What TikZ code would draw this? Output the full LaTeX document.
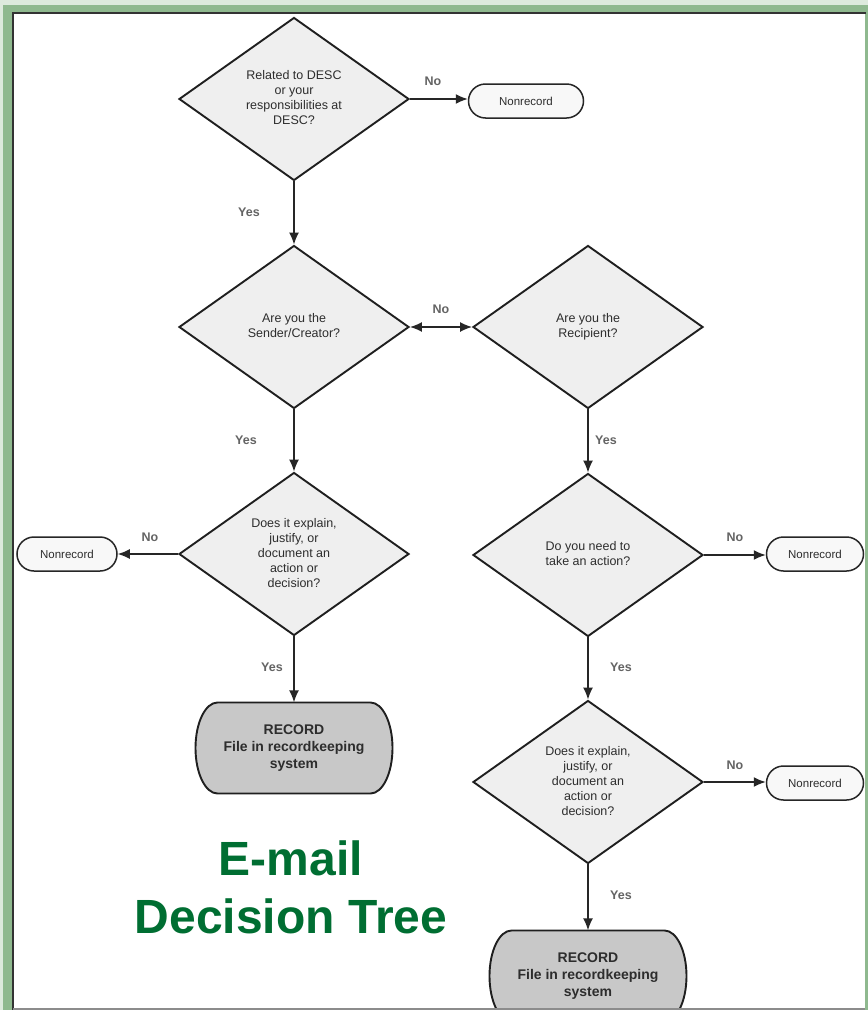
\documentclass[tikz,border=0pt]{standalone}
\usepackage{fontspec}
\setmainfont{Liberation Sans}
\usetikzlibrary{shapes.geometric,shapes.misc,arrows.meta}
\definecolor{frameg}{RGB}{143,185,143}
\definecolor{titleg}{RGB}{0,110,50}
\definecolor{dfill}{RGB}{239,239,239}
\definecolor{nfill}{RGB}{248,248,248}
\definecolor{rfill}{RGB}{200,200,200}
\definecolor{lblc}{RGB}{100,100,100}
\definecolor{txtc}{RGB}{45,45,45}
\newcommand{\dtxt}[2]{\raisebox{#1}{\begin{tabular}{@{}c@{}}#2\end{tabular}}}
\begin{document}
\begin{tikzpicture}[x=1pt,y=-1pt,
 decision/.style={diamond, draw=black!88, line width=1.9pt, fill=dfill, aspect=1.41,
   minimum width=230pt, minimum height=163pt, inner sep=0pt, align=center,
   font=\fontsize{12.5}{15}\selectfont, text=txtc},
 nonrec/.style={rounded rectangle, draw=black!85, line width=1.5pt, fill=nfill,
   minimum height=34pt, inner sep=0pt, font=\fontsize{11.5}{14}\selectfont, text=txtc},
 rectext/.style={rectangle, minimum width=197pt, minimum height=91pt, inner sep=0pt,
   align=center, font=\bfseries\fontsize{14}{17}\selectfont, text=txtc},
 recline/.style={draw=black!88, line width=1.9pt, fill=rfill},
 tipA/.tip={Latex[length=12pt,width=10pt]},
 conn/.style={line width=1.5pt, draw=black!85, -tipA},
 lbl/.style={font=\bfseries\fontsize{12.5}{15}\selectfont, text=lblc},
 titlestyle/.style={font=\bfseries\fontsize{48}{58}\selectfont, text=titleg, align=center}
]
\useasboundingbox (0,0) rectangle (868,1010);
% frame
\fill[frameg!30!white] (0,0) rectangle (868,1010);
\fill[frameg] (3,5) rectangle (868,1010);
\fill[white] (14,14) rectangle (865,1010);
\draw[line width=2pt, black!80] (13,1010) -- (13,13) -- (866,13);

% decisions
\node[decision] (d1) at (294,99) {\dtxt{6pt}{Related to DESC\\or your\\responsibilities at\\DESC?}};
\node[decision] (d2) at (294,327) {\dtxt{5pt}{Are you the\\Sender/Creator?}};
\node[decision] (d3) at (588,327) {\dtxt{5pt}{Are you the\\Recipient?}};
\node[decision] (d4) at (294,554) {\dtxt{1pt}{Does it explain,\\justify, or\\document an\\action or\\decision?}};
\node[decision] (d5) at (588,555) {\dtxt{7pt}{Do you need to\\take an action?}};
\node[decision] (d6) at (588,782) {\dtxt{0pt}{Does it explain,\\justify, or\\document an\\action or\\decision?}};

% terminals
\node[nonrec, minimum width=115pt] (n1) at (526,101) {Nonrecord};
\node[nonrec, minimum width=100pt] (n2) at (67,554) {Nonrecord};
\node[nonrec, minimum width=97pt] (n3) at (815,554) {Nonrecord};
\node[nonrec, minimum width=97pt] (n4) at (815,783) {Nonrecord};

\coordinate (r1c) at (294,748);
\coordinate (r2c) at (588,976);
\path[recline] ([shift={(-76.5,-45.5)}]r1c) -- ([shift={(76.5,-45.5)}]r1c)
  arc[start angle=-90, end angle=90, x radius=22, y radius=45.5]
  -- ([shift={(-76.5,45.5)}]r1c)
  arc[start angle=90, end angle=270, x radius=22, y radius=45.5] -- cycle;
\path[recline] ([shift={(-76.5,-45.5)}]r2c) -- ([shift={(76.5,-45.5)}]r2c)
  arc[start angle=-90, end angle=90, x radius=22, y radius=45.5]
  -- ([shift={(-76.5,45.5)}]r2c)
  arc[start angle=90, end angle=270, x radius=22, y radius=45.5] -- cycle;
\node[rectext] (r1) at (r1c) {RECORD\\File in recordkeeping\\system};
\node[rectext] (r2) at (r2c) {RECORD\\File in recordkeeping\\system};

% connectors
\draw[conn] (d1.south) -- (d2.north);
\draw[conn] (d1.east) -- (n1.west |- d1.east);
\draw[line width=1.5pt, draw=black!85, tipA-tipA] (d2.east) -- (d3.west);
\draw[conn] (d2.south) -- (d4.north);
\draw[conn] (d4.west) -- (n2.east |- d4.west);
\draw[conn] (d4.south) -- (r1.north);
\draw[conn] (d3.south) -- (d5.north);
\draw[conn] (d5.east) -- (n3.west |- d5.east);
\draw[conn] (d5.south) -- (d6.north);
\draw[conn] (d6.east) -- (n4.west |- d6.east);
\draw[conn] (d6.south) -- (r2.north);

% labels
\node[lbl] (lno1) at (433,81) {No};
\node[lbl] (lyes1) at (249,212) {Yes};
\node[lbl] (lno2) at (441,309) {No};
\node[lbl] (lyes2) at (246,440) {Yes};
\node[lbl] (lyes3) at (606,440) {Yes};
\node[lbl] (lno3) at (150,537) {No};
\node[lbl] (lno4) at (735,537) {No};
\node[lbl] (lyes4) at (272,667) {Yes};
\node[lbl] (lyes5) at (621,667) {Yes};
\node[lbl] (lno5) at (735,765) {No};
\node[lbl] (lyes6) at (621,895) {Yes};

% title
\node[titlestyle] (title) at (291,887) {E-mail\\Decision Tree};

% bottom edge of frame
\fill[white] (14,1008) rectangle (865,1010);
\draw[line width=1.5pt, black!45] (13,1008.8) -- (865,1008.8);
\end{tikzpicture}
\end{document}
